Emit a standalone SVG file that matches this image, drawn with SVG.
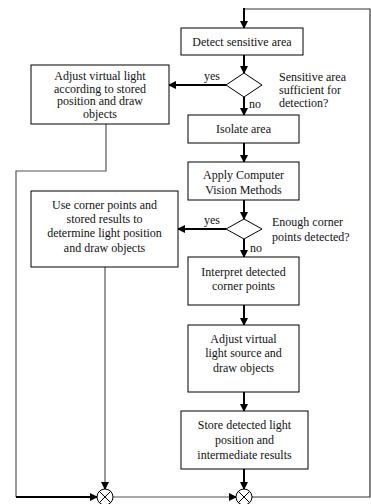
<svg xmlns="http://www.w3.org/2000/svg" width="371" height="504" viewBox="0 0 371 504">
<style>
.box{fill:#fff;stroke:#000;stroke-width:1}
.t{font-family:"Liberation Serif","Times New Roman",serif;font-size:12px;fill:#111;text-anchor:middle}
.l{font-family:"Liberation Serif","Times New Roman",serif;font-size:12px;fill:#111}
.thick{fill:none;stroke:#000;stroke-width:2}
.thin{fill:none;stroke:#555;stroke-width:1.2}
</style>
<defs>
<marker id="ah" markerWidth="8" markerHeight="8" refX="7" refY="4" orient="auto" markerUnits="userSpaceOnUse">
<path d="M0,0 L8,4 L0,8 z" fill="#000"/>
</marker>
</defs>
<g id="connectors">
<path class="thin" d="M244,9 H370 V497 H252" style="stroke:#333"/>
<path class="thick" d="M244,8 V28" marker-end="url(#ah)"/>
<path class="thick" d="M244,55 V73" marker-end="url(#ah)"/>
<path class="thick" d="M226,85 H169" marker-end="url(#ah)"/>
<path class="thick" d="M244,97 V115" marker-end="url(#ah)"/>
<path class="thick" d="M244,143 V162" marker-end="url(#ah)"/>
<path class="thick" d="M244,200 V219" marker-end="url(#ah)"/>
<path class="thick" d="M226,229 H178" marker-end="url(#ah)"/>
<path class="thick" d="M244,239 V257" marker-end="url(#ah)"/>
<path class="thick" d="M244,305 V325" marker-end="url(#ah)"/>
<path class="thick" d="M244,392 V411" marker-end="url(#ah)"/>
<path class="thick" d="M244,469 V489" marker-end="url(#ah)"/>
<path class="thin" d="M106,124 V171 H16 V497"/>
<path class="thick" d="M16,497 H97" marker-end="url(#ah)"/>
<path class="thin" d="M105,267 V484"/>
<path class="thick" d="M105,482 V489" marker-end="url(#ah)"/>
<path class="thin" d="M113,497 H232"/>
<path class="thick" d="M230,497 H236" marker-end="url(#ah)"/>
<text class="l" x="204" y="80">yes</text>
<text class="l" x="249" y="108">no</text>
<text class="l" x="204" y="224">yes</text>
<text class="l" x="250" y="252">no</text>
</g>
<g id="detect">
<rect class="box" x="181" y="28" width="122" height="27"/>
<text class="t" x="242" y="46">Detect sensitive area</text>
</g>
<g id="decision1">
<path class="box" d="M244,73 L262,85 L244,97 L226,85 Z"/>
<text class="l" x="279" y="81">Sensitive area</text>
<text class="l" x="279" y="94">sufficient for</text>
<text class="l" x="279" y="107">detection?</text>
</g>
<g id="adjustStored">
<rect class="box" x="31" y="65" width="138" height="59"/>
<text class="t" x="100" y="80">Adjust virtual light</text>
<text class="t" x="100" y="92.5">according to stored</text>
<text class="t" x="100" y="105">position and draw</text>
<text class="t" x="100" y="117.5">objects</text>
</g>
<g id="isolate">
<rect class="box" x="188" y="115" width="111" height="28"/>
<text class="t" x="243.5" y="133">Isolate area</text>
</g>
<g id="apply">
<rect class="box" x="188" y="162" width="111" height="38"/>
<text class="t" x="243.5" y="179">Apply Computer</text>
<text class="t" x="243.5" y="194">Vision Methods</text>
</g>
<g id="decision2">
<path class="box" d="M244,219 L262,229 L244,239 L226,229 Z"/>
<text class="l" x="272" y="226">Enough corner</text>
<text class="l" x="272" y="241">points detected?</text>
</g>
<g id="useCorner">
<rect class="box" x="31" y="191" width="147" height="76"/>
<text class="t" x="104.5" y="209">Use corner points and</text>
<text class="t" x="104.5" y="223">stored results to</text>
<text class="t" x="104.5" y="237">determine light position</text>
<text class="t" x="104.5" y="252">and draw objects</text>
</g>
<g id="interpret">
<rect class="box" x="188" y="257" width="111" height="48"/>
<text class="t" x="243.5" y="276">Interpret detected</text>
<text class="t" x="243.5" y="290">corner points</text>
</g>
<g id="adjustSource">
<rect class="box" x="188" y="325" width="111" height="67"/>
<text class="t" x="243.5" y="343">Adjust virtual</text>
<text class="t" x="243.5" y="357">light source and</text>
<text class="t" x="243.5" y="372">draw objects</text>
</g>
<g id="store">
<rect class="box" x="181" y="411" width="127" height="58"/>
<text class="t" x="244.5" y="429">Store detected light</text>
<text class="t" x="244.5" y="444">position and</text>
<text class="t" x="244.5" y="459">intermediate results</text>
</g>
<g id="join1">
<circle cx="105" cy="497" r="8" fill="#fff" stroke="#000" stroke-width="1"/>
<path d="M99.3,491.3 L110.7,502.7 M110.7,491.3 L99.3,502.7" stroke="#000" stroke-width="1"/>
</g>
<g id="join2">
<circle cx="244" cy="497" r="8" fill="#fff" stroke="#000" stroke-width="1"/>
<path d="M238.3,491.3 L249.7,502.7 M249.7,491.3 L238.3,502.7" stroke="#000" stroke-width="1"/>
</g>
</svg>
